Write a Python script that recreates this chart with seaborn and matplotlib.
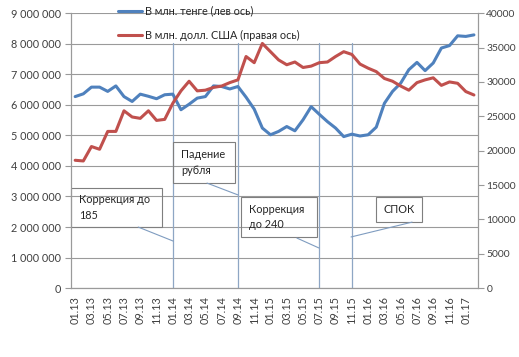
import numpy as np
import pandas as pd
import matplotlib
matplotlib.use("Agg")
import matplotlib.pyplot as plt
import seaborn as sns
from matplotlib.lines import Line2D
from matplotlib.patches import Rectangle

# ---------------- data ----------------
months = ["01.13","02.13","03.13","04.13","05.13","06.13","07.13","08.13","09.13","10.13","11.13","12.13",
          "01.14","02.14","03.14","04.14","05.14","06.14","07.14","08.14","09.14","10.14","11.14","12.14",
          "01.15","02.15","03.15","04.15","05.15","06.15","07.15","08.15","09.15","10.15","11.15","12.15",
          "01.16","02.16","03.16","04.16","05.16","06.16","07.16","08.16","09.16","10.16","11.16","12.16",
          "01.17","02.17"]
tenge = [6.27, 6.36, 6.58, 6.58, 6.44, 6.62, 6.27, 6.11, 6.35, 6.28, 6.20, 6.33,
         6.35, 5.84, 6.02, 6.22, 6.27, 6.62, 6.60, 6.52, 6.60, 6.25, 5.86, 5.24,
         5.02, 5.13, 5.29, 5.15, 5.51, 5.94, 5.69, 5.45, 5.24, 4.96, 5.04, 4.98,
         5.02, 5.27, 6.05, 6.44, 6.71, 7.15, 7.39, 7.12, 7.37, 7.86, 7.94, 8.26,
         8.24, 8.29]  # millions (x 1e6)
usd = [18.6, 18.5, 20.6, 20.2, 22.8, 22.8, 25.8, 24.9, 24.7, 25.8, 24.4, 24.55,
       26.9, 28.7, 30.1, 28.7, 28.8, 29.2, 29.4, 29.9, 30.3, 33.7, 32.8, 35.6,
       34.4, 33.2, 32.5, 32.9, 32.1, 32.3, 32.8, 32.9, 33.7, 34.4, 34.0, 32.6,
       32.0, 31.5, 30.5, 30.1, 29.4, 28.8, 29.9, 30.3, 30.6, 29.5, 30.0, 29.8,
       28.6, 28.1]  # thousands (x 1e3)
left_ticks = [0, 1000000, 2000000, 3000000, 4000000, 5000000, 6000000, 7000000, 8000000, 9000000]
left_labels = ["0", "1 000 000", "2 000 000", "3 000 000", "4 000 000", "5 000 000",
               "6 000 000", "7 000 000", "8 000 000", "9 000 000"]
right_ticks = [0, 5000, 10000, 15000, 20000, 25000, 30000, 35000, 40000]
event_months = ["01.14", "09.14", "07.15", "11.15"]
series_names = ["В млн. тенге (лев ось)", "В млн. долл. США (правая ось)"]
callouts = ["Коррекция до\n185", "Падение\nрубля", "Коррекция\nдо 240", "СПОК"]

df = pd.DataFrame({
    "idx": np.arange(len(months)),
    "tenge": np.array(tenge) * 1e6,
    "usd": np.array(usd) * 1e3,
})

# ---------------- style ----------------
sns.set_theme(style="white")
plt.rcParams["font.family"] = ["Lato", "DejaVu Sans"]
FS = 7.8
BLUE = "#4F81BD"
RED = "#C0504D"
GRID = "#9a9a9a"
TXT = "#404040"

fig = plt.figure(figsize=(5.19, 3.57), dpi=100)
ax = fig.add_axes([0.137, 0.193, 0.784, 0.770])
ax2 = ax.twinx()

sns.lineplot(data=df, x="idx", y="tenge", ax=ax, color=BLUE, lw=2.2, legend=False)
sns.lineplot(data=df, x="idx", y="usd", ax=ax2, color=RED, lw=2.2, legend=False)

n = len(months)
ax.set_xlim(-0.5, n - 0.5)
ax.set_ylim(0, 9000000)
ax2.set_ylim(0, 40000)

ax.set_yticks(left_ticks)
ax.set_yticklabels(left_labels, fontsize=FS, color=TXT)
ax2.set_yticks(right_ticks)
ax2.set_yticklabels([str(t) for t in right_ticks], fontsize=7.4, color=TXT)

major = np.arange(0, n, 2)
ax.set_xticks(major)
ax.set_xticklabels([months[i] for i in major], rotation=90, fontsize=FS, color=TXT)
ax.set_xticks(np.arange(-0.5, n, 1), minor=True)
ax.tick_params(axis="x", which="major", length=0, pad=6)
ax.tick_params(axis="x", which="minor", length=4, color=GRID, width=0.8, direction="out")
ax.tick_params(axis="y", length=4, color=GRID, width=0.8, direction="out", pad=3)
ax2.tick_params(axis="y", length=4, color=GRID, width=0.8, direction="out", pad=2)

ax.set_xlabel("")
ax.set_ylabel("")
ax2.set_ylabel("")

ax.grid(axis="y", color=GRID, lw=0.8)
ax.grid(axis="x", visible=False)
ax2.grid(False)
for a in (ax, ax2):
    a.spines["top"].set_visible(False)
    for s in ("left", "right", "bottom"):
        a.spines[s].set_color(GRID)
        a.spines[s].set_linewidth(0.8)

# event vertical lines
for m in event_months:
    ax.axvline(months.index(m), ymin=0, ymax=0.892, color="#8ea6c4", lw=0.9, zorder=1)

# callout boxes (axes fraction)
boxes = [(0.0, 0.222, 0.224, 0.364), (0.251, 0.382, 0.403, 0.531),
         (0.418, 0.186, 0.604, 0.331), (0.749, 0.240, 0.862, 0.331)]
leaders = [((0.165, 0.222), (0.251, 0.171)), ((0.334, 0.382), (0.410, 0.339)),
           ((0.555, 0.182), (0.609, 0.146)), ((0.838, 0.240), (0.688, 0.186))]
for (x0, y0, x1, y1), txt in zip(boxes, callouts):
    ax.add_patch(Rectangle((x0, y0), x1 - x0, y1 - y0, transform=ax.transAxes,
                           fill=False, ec="#7f7f7f", lw=0.8, clip_on=False, zorder=3))
    if txt == "СПОК":
        ax.text((x0 + x1) / 2, (y0 + y1) / 2, txt, transform=ax.transAxes,
                ha="center", va="center", fontsize=FS, color="#262626", linespacing=1.5)
    else:
        ax.text(x0 + 0.02, (y0 + y1) / 2, txt, transform=ax.transAxes,
                ha="left", va="center", fontsize=FS, color="#262626", linespacing=1.5)
for (p0, p1) in leaders:
    ax.add_line(Line2D([p0[0], p1[0]], [p0[1], p1[1]], transform=ax.transAxes,
                       color="#7f9cc0", lw=0.8, clip_on=False, zorder=3))

# legend
handles = [Line2D([], [], color=BLUE, lw=2.2), Line2D([], [], color=RED, lw=2.2)]
leg = ax2.legend(handles, series_names, loc="center left", bbox_to_anchor=(0.116, 0.963),
                 frameon=False, fontsize=FS, handlelength=2.2, handletextpad=0.3,
                 labelspacing=1.25, borderaxespad=0, borderpad=0)
for t in leg.get_texts():
    t.set_color("#262626")

fig.savefig("out.png", dpi=100)
